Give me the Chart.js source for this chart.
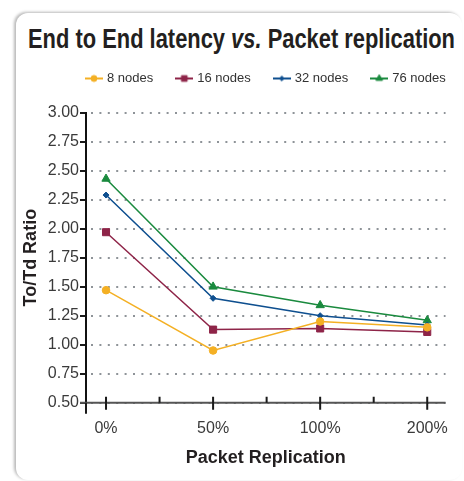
<!DOCTYPE html>
<html>
<head>
<meta charset="utf-8">
<script src="https://cdn.jsdelivr.net/npm/chart.js@4"></script>
<style>
  html, body { margin: 0; padding: 0; background: #fff; }
  body { width: 464px; height: 481px; position: relative; overflow: hidden; }
  .card {
    position: absolute; left: 16px; top: 13px; width: 446px; height: 467px;
    border-radius: 12px; background: #fff;
    box-shadow: -2px -1px 3px rgba(0, 0, 0, 0.28);
  }
  #title {
    position: absolute; left: 28px; top: 26px; white-space: nowrap;
    font: bold 27px/27px 'Liberation Sans', sans-serif; color: #231f20;
    transform-origin: 0 0;
  }
  #chart { position: absolute; left: 0; top: 0; }
</style>
</head>
<body>
<div class="card"></div>
<div id="title">End to End latency <i>vs.</i> Packet replication</div>
<canvas id="chart" width="464" height="481"></canvas>
<script>
// data
const categories = ['0%', '50%', '100%', '200%'];
const seriesNames = ['8 nodes', '16 nodes', '32 nodes', '76 nodes'];
const nodes8  = [1.47, 0.95, 1.20, 1.15];
const nodes16 = [1.97, 1.13, 1.14, 1.11];
const nodes32 = [2.29, 1.40, 1.25, 1.17];
const nodes76 = [2.43, 1.50, 1.34, 1.21];
const yMin = 0.5, yMax = 3.0, yStep = 0.25;

const colors = ['#f4b024', '#8e2448', '#0e4f8f', '#1a8a3e'];
const pointStyles = ['circle', 'rect', 'rectRot', 'triangle'];
const pointSizes = [3.8, 5, 3, 4.8];

function hasFont(name) {
  const c = document.createElement('canvas').getContext('2d');
  c.font = '20px monospace';
  const a = c.measureText('abcdefghij0123ABC').width;
  c.font = `20px '${name}', monospace`;
  return c.measureText('abcdefghij0123ABC').width !== a;
}
const narrow = hasFont('Liberation Sans Narrow');
const titleFamily = narrow ? "'Liberation Sans Narrow'" : "'Liberation Sans'";

// title: squeeze to the reference width
const titleEl = document.getElementById('title');
titleEl.style.fontFamily = titleFamily;
titleEl.style.transform = `scaleX(${427 / titleEl.getBoundingClientRect().width})`;

Chart.defaults.font.family = "'Liberation Sans', sans-serif";
Chart.defaults.color = '#3a3a3a';

// legend icons: short line with the marker on it
function legendIcon(i) {
  const c = document.createElement('canvas');
  c.width = 18; c.height = 10;
  const ctx = c.getContext('2d');
  ctx.strokeStyle = colors[i];
  ctx.fillStyle = colors[i];
  ctx.lineWidth = 2;
  ctx.beginPath(); ctx.moveTo(0, 5); ctx.lineTo(18, 5); ctx.stroke();
  ctx.lineWidth = 1;
  Chart.helpers.drawPoint(ctx, {pointStyle: pointStyles[i], radius: pointSizes[i] * 0.8, rotation: 0, borderWidth: 1}, 9, 5);
  return c;
}

// one-row legend, line + marker + label
const legendPlugin = {
  id: 'lineLegend',
  afterDraw(chart) {
    const ctx = chart.ctx;
    ctx.save();
    ctx.font = "13px 'Liberation Sans', sans-serif";
    ctx.textBaseline = 'middle';
    let x = 85;
    const y = 78.5;
    chart.data.datasets.forEach((ds, i) => {
      ctx.drawImage(legendIcon(i), x, y - 5);
      x += 22;
      ctx.fillStyle = '#333';
      ctx.fillText(ds.label, x, y);
      x += ctx.measureText(ds.label).width + 22;
    });
    ctx.restore();
  }
};

const axisTitleFont = narrow
  ? {family: titleFamily, size: 21, weight: 'bold', lineHeight: 1}
  : {family: titleFamily, size: 18, weight: 'bold', lineHeight: 1};

// x axis line with major / minor ticks
const xAxisPlugin = {
  id: 'xAxisLine',
  afterDraw(chart) {
    const {ctx, chartArea: a, scales: {x}} = chart;
    ctx.save();
    ctx.lineWidth = 2;
    ctx.strokeStyle = '#555';
    ctx.beginPath(); ctx.moveTo(a.left - 6, a.bottom); ctx.lineTo(a.right, a.bottom); ctx.stroke();
    ctx.strokeStyle = '#1a1a1a';
    ctx.beginPath();
    ctx.moveTo(a.left, a.bottom); ctx.lineTo(a.left, a.bottom + 11);
    x.ticks.forEach(t => {
      const px = x.getPixelForValue(t.value);
      const major = Number.isInteger(t.value);
      ctx.moveTo(px, a.bottom - 6);
      ctx.lineTo(px, a.bottom + (major ? 7 : 0));
    });
    ctx.stroke();
    ctx.restore();
  }
};

const series = [nodes8, nodes16, nodes32, nodes76];

new Chart(document.getElementById('chart').getContext('2d'), {
  type: 'line',
  data: {
    datasets: series.map((vals, i) => ({
      label: seriesNames[i],
      data: vals.map((v, j) => ({x: j, y: v})),
      borderColor: colors[i],
      backgroundColor: colors[i],
      borderWidth: 1.5,
      pointStyle: pointStyles[i],
      pointRadius: pointSizes[i],
      pointBorderWidth: 1,
      tension: 0
    }))
  },
  options: {
    responsive: false,
    animation: false,
    layout: {padding: {top: 112.7, left: 0, right: 6, bottom: 0}},
    plugins: {
      title: {display: false},
      legend: {display: false},
      tooltip: {enabled: false}
    },
    scales: {
      x: {
        type: 'linear',
        min: -0.187,
        max: 3.171,
        afterFit: s => { s.height = 78.3; },
        border: {display: false},
        grid: {display: false, drawTicks: false},
        ticks: {
          stepSize: 0.5,
          includeBounds: false,
          autoSkip: false,
          maxRotation: 0,
          padding: 16,
          color: '#3a3a3a',
          font: {size: 16},
          callback: v => Number.isInteger(v) ? categories[v] : ''
        },
        title: {
          display: true, text: 'Packet Replication', color: '#231f20',
          font: axisTitleFont,
          padding: {top: 0, bottom: 23 - axisTitleFont.size / 2}
        }
      },
      y: {
        min: yMin,
        max: yMax,
        afterFit: s => { s.width = 86; },
        border: {display: true, color: '#111', width: 2, dash: [2, 6.4], dashOffset: -4},
        grid: {
          color: '#8e9398', lineWidth: 2,
          tickColor: '#1a1a1a', tickWidth: 2, tickLength: 6
        },
        ticks: {
          stepSize: yStep,
          padding: 1,
          color: '#3a3a3a',
          font: {size: 16},
          callback: v => v.toFixed(2)
        },
        title: {
          display: true, text: 'To/Td Ratio', color: '#231f20',
          font: axisTitleFont,
          padding: {top: 31 - axisTitleFont.size / 2, bottom: 0}
        }
      }
    }
  },
  plugins: [xAxisPlugin, legendPlugin]
});
</script>
</body>
</html>
